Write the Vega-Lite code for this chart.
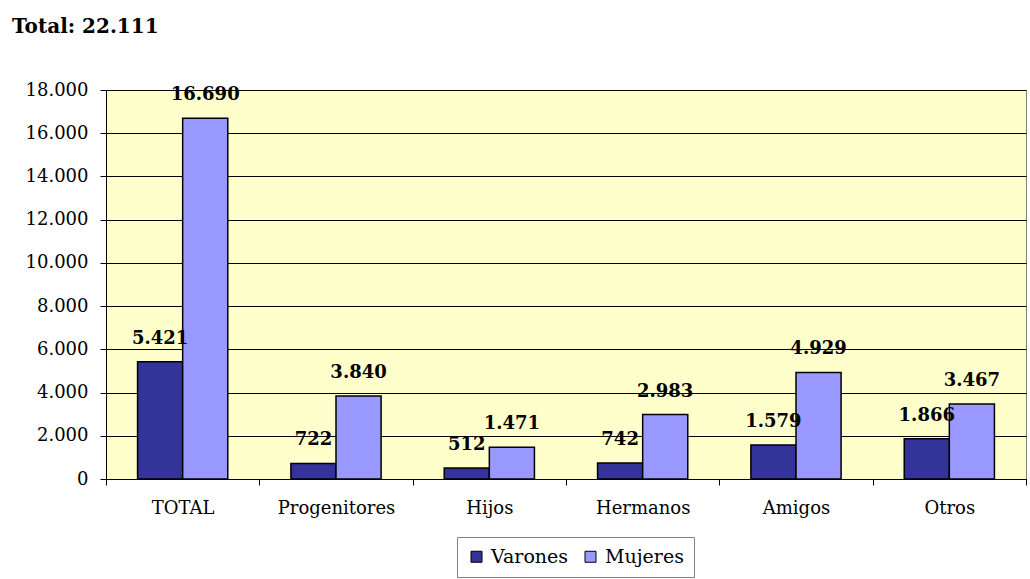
{
  "$schema": "https://vega.github.io/schema/vega-lite/v6.json",
  "autosize": {"type": "none"},
  "width": 920,
  "height": 389,
  "padding": {"left": 106, "top": 90, "right": 4, "bottom": 100},
  "background": "white",
  "title": {
    "text": "Total: 22.111",
    "anchor": "start",
    "frame": "group",
    "dx": -94,
    "offset": 28,
    "baseline": "alphabetic",
    "font": "DejaVu Serif",
    "fontSize": 20,
    "fontWeight": "bold",
    "color": "black"
  },
  "config": {
    "locale": {"number": {"decimal": ",", "thousands": ".", "grouping": [3], "currency": ["", " €"]}},
    "view": {"fill": "#FFFFCC", "stroke": "#808080", "strokeWidth": 1},
    "font": "DejaVu Serif"
  },
  "data": {
    "values": [
      {"cat": "TOTAL", "sexo": "Varones", "valor": 5421},
      {"cat": "TOTAL", "sexo": "Mujeres", "valor": 16690},
      {"cat": "Progenitores", "sexo": "Varones", "valor": 722},
      {"cat": "Progenitores", "sexo": "Mujeres", "valor": 3840},
      {"cat": "Hijos", "sexo": "Varones", "valor": 512},
      {"cat": "Hijos", "sexo": "Mujeres", "valor": 1471},
      {"cat": "Hermanos", "sexo": "Varones", "valor": 742},
      {"cat": "Hermanos", "sexo": "Mujeres", "valor": 2983},
      {"cat": "Amigos", "sexo": "Varones", "valor": 1579},
      {"cat": "Amigos", "sexo": "Mujeres", "valor": 4929},
      {"cat": "Otros", "sexo": "Varones", "valor": 1866},
      {"cat": "Otros", "sexo": "Mujeres", "valor": 3467}
    ]
  },
  "encoding": {
    "x": {
      "field": "cat",
      "type": "nominal",
      "sort": ["TOTAL", "Progenitores", "Hijos", "Hermanos", "Amigos", "Otros"],
      "scale": {"paddingInner": 0, "paddingOuter": 0},
      "axis": {
        "title": null,
        "labelAngle": 0,
        "tickBand": "extent",
        "tickSize": 6,
        "tickColor": "black",
        "domainColor": "black",
        "labelPadding": 14,
        "labelFontSize": 18,
        "labelFont": "DejaVu Serif",
        "labelColor": "black",
        "grid": false
      }
    },
    "xOffset": {
      "field": "sexo",
      "type": "nominal",
      "sort": ["Varones", "Mujeres"],
      "scale": {"paddingInner": 0, "paddingOuter": 0.7}
    },
    "y": {
      "field": "valor",
      "type": "quantitative",
      "scale": {"domain": [0, 18000], "nice": false},
      "axis": {
        "title": null,
        "values": [0, 2000, 4000, 6000, 8000, 10000, 12000, 14000, 16000, 18000],
        "format": ",d",
        "grid": true,
        "gridColor": "black",
        "gridOpacity": 1,
        "gridWidth": 1,
        "tickSize": 6,
        "tickColor": "black",
        "domainColor": "black",
        "labelPadding": 12,
        "labelFontSize": 18,
        "labelFont": "DejaVu Serif",
        "labelColor": "black"
      }
    }
  },
  "layer": [
    {
      "mark": {"type": "bar", "stroke": "black", "strokeWidth": 1.5},
      "encoding": {
        "color": {
          "field": "sexo",
          "type": "nominal",
          "sort": ["Varones", "Mujeres"],
          "scale": {"domain": ["Varones", "Mujeres"], "range": ["#333399", "#9999FF"]},
          "legend": {
            "title": null,
            "orient": "none",
            "legendX": 351,
            "legendY": 447,
            "direction": "horizontal",
            "symbolType": "square",
            "symbolSize": 121,
            "symbolStrokeColor": "black",
            "symbolStrokeWidth": 1,
            "symbolOpacity": 1,
            "labelFontSize": 19,
            "labelFont": "DejaVu Serif",
            "labelColor": "black",
            "labelOffset": 5,
            "columnPadding": 12,
            "padding": 10,
            "strokeColor": "#808080",
            "fillColor": "white"
          }
        }
      }
    },
    {
      "mark": {
        "type": "text",
        "baseline": "alphabetic",
        "dy": -18,
        "font": "DejaVu Serif",
        "fontWeight": "bold",
        "fontSize": 18,
        "color": "black"
      },
      "encoding": {
        "text": {"field": "valor", "type": "quantitative", "format": ",d"}
      }
    }
  ]
}
